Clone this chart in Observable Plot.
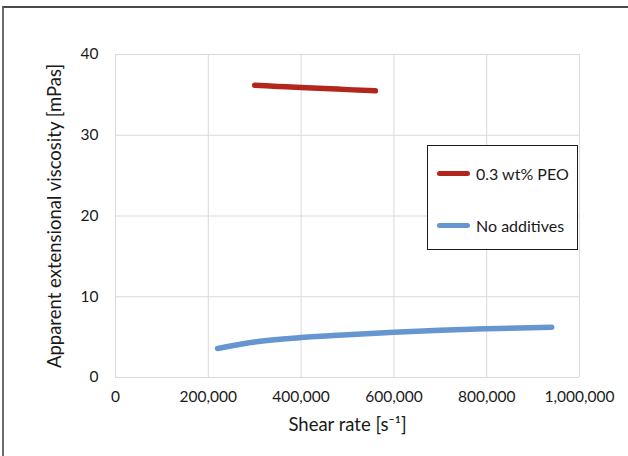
<!DOCTYPE html>
<html>
<head>
<meta charset="utf-8">
<script src="https://cdn.jsdelivr.net/npm/d3@7"></script>
<script src="https://cdn.jsdelivr.net/npm/@observablehq/plot@0.6"></script>
<style>
  html, body { margin: 0; padding: 0; background: #fff; }
  #wrap { position: relative; width: 628px; height: 456px; overflow: hidden; font-family: Lato, "Open Sans", sans-serif; }
  #border { position: absolute; left: 2px; top: 6px; width: 640px; height: 470px; border-top: 2px solid #4a4a4a; border-left: 2px solid #6a6a6a; box-sizing: border-box; pointer-events: none; }
  #legend { position: absolute; left: 427px; top: 145px; width: 151px; height: 105px; border: 1.5px solid #1a1a1a; box-sizing: border-box; background: #fff; }
  .item { position: absolute; left: 9px; height: 20px; display: flex; align-items: center; font-size: 16px; color: #1a1a1a; }
  .swatch { width: 33px; height: 5px; border-radius: 3px; margin-right: 6px; }
  svg { position: absolute; left: 0; top: 0; }
</style>
</head>
<body>
<div id="wrap">
  <div id="chart"></div>
  <div id="border"></div>
  <div id="legend"></div>
</div>
<script>
const seriesNames = ["0.3 wt% PEO", "No additives"];
const seriesColors = ["#b3261c", "#6596cf"];
const peoX = [300000, 350000, 400000, 450000, 500000, 560000];
const peoY = [36.2, 36.05, 35.9, 35.8, 35.65, 35.5];
const noneX = [220000, 300000, 400000, 500000, 600000, 700000, 800000, 940000];
const noneY = [3.6, 4.4, 4.95, 5.3, 5.6, 5.85, 6.03, 6.23];
const xTicks = [0, 200000, 400000, 600000, 800000, 1000000];
const yTicks = [0, 10, 20, 30, 40];
const xLabel = "Shear rate [s\u207B\u00B9]";
const yLabel = "Apparent extensional viscosity [mPas]";

const peo = peoX.map((x, i) => ({x, y: peoY[i]}));
const none = noneX.map((x, i) => ({x, y: noneY[i]}));

const chart = Plot.plot({
  width: 628,
  height: 456,
  marginLeft: 115,
  marginRight: 49,
  marginTop: 54,
  marginBottom: 79,
  style: {fontFamily: "Lato, 'Open Sans', sans-serif", color: "#1a1a1a", background: "transparent"},
  x: {domain: [0, 1000000]},
  y: {domain: [0, 40]},
  marks: [
    Plot.gridX(xTicks, {stroke: "#d9d9d9", strokeOpacity: 1, strokeWidth: 1}),
    Plot.gridY(yTicks, {stroke: "#d9d9d9", strokeOpacity: 1, strokeWidth: 1}),
    Plot.axisX(xTicks, {tickSize: 0, tickPadding: 13, tickFormat: d3.format(","), fontSize: 15.5, label: null}),
    Plot.axisY(yTicks, {tickSize: 0, tickPadding: 17, fontSize: 15.5, label: null}),
    Plot.text([xLabel], {frameAnchor: "bottom", dy: 53, fontSize: 18.5, fill: "#1a1a1a"}),
    Plot.text([yLabel], {frameAnchor: "left", dx: -60, rotate: -90, textAnchor: "middle", fontSize: 18.5, fill: "#1a1a1a"}),
    Plot.line(none, {x: "x", y: "y", stroke: seriesColors[1], strokeWidth: 5.5, strokeLinecap: "round", curve: "monotone-x"}),
    Plot.line(peo, {x: "x", y: "y", stroke: seriesColors[0], strokeWidth: 5.5, strokeLinecap: "round", curve: "monotone-x"})
  ]
});
document.getElementById("chart").appendChild(chart);

const legend = document.getElementById("legend");
const tops = [17, 69];
seriesNames.forEach((name, i) => {
  const item = document.createElement("div");
  item.className = "item";
  item.style.top = tops[i] + "px";
  const sw = document.createElement("div");
  sw.className = "swatch";
  sw.style.background = seriesColors[i];
  const t = document.createElement("span");
  t.textContent = name;
  item.appendChild(sw);
  item.appendChild(t);
  legend.appendChild(item);
});
</script>
</body>
</html>
